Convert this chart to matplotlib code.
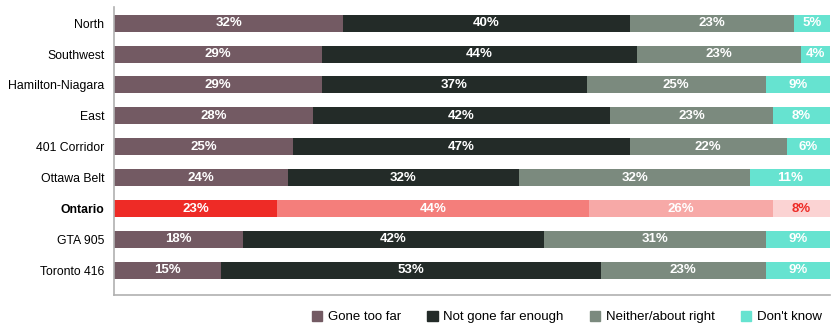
import matplotlib.pyplot as plt
import numpy as np

plt.rcParams['font.family'] = ['Liberation Sans', 'DejaVu Sans']

regions = ["North", "Southwest", "Hamilton-Niagara", "East", "401 Corridor",
           "Ottawa Belt", "Ontario", "GTA 905", "Toronto 416"]
too_far = [32, 29, 29, 28, 25, 24, 23, 18, 15]
not_enough = [40, 44, 37, 42, 47, 32, 44, 42, 53]
about_right = [23, 23, 25, 23, 22, 32, 26, 31, 23]
dont_know = [5, 4, 9, 8, 6, 11, 8, 9, 9]
series_names = ["Gone too far", "Not gone far enough", "Neither/about right", "Don't know"]

colors = ["#735a63", "#232b28", "#7b8a7e", "#66e3d0"]
ontario_colors = ["#ee2b26", "#f47e7b", "#f7a9a7", "#fbd3d3"]

fig = plt.figure(figsize=(8.36, 3.24), dpi=100)
ax = fig.add_axes([0.1364, 0.0895, 0.8564, 0.8885])

series = np.array([too_far, not_enough, about_right, dont_know], dtype=float)
# each row is stretched to fill 100% (rounded shares don't always add up)
shares = series / series.sum(axis=0) * 100
y = np.arange(len(regions))
left = np.zeros(len(regions))
for k in range(len(series)):
    cols = [ontario_colors[k] if r == "Ontario" else colors[k] for r in regions]
    ax.barh(y, shares[k], left=left, height=0.55, color=cols, label=series_names[k])
    for i, w in enumerate(shares[k]):
        tc = "#ee2b26" if (regions[i] == "Ontario" and k == 3) else "white"
        ax.text(left[i] + w / 2, y[i], f"{int(series[k, i])}%", ha="center", va="center",
                color=tc, fontsize=9.5, fontweight="bold")
    left += shares[k]

ax.set_xlim(0, 100)
ax.set_ylim(8.8, -0.52)
ax.set_yticks(y)
ax.set_yticklabels(regions, fontsize=8.8)
for lbl in ax.get_yticklabels():
    if lbl.get_text() == "Ontario":
        lbl.set_fontweight("bold")
ax.tick_params(axis="y", length=0, pad=7)
ax.set_xticks([])
for s in ["top", "right"]:
    ax.spines[s].set_visible(False)
for s in ["left", "bottom"]:
    ax.spines[s].set_color("#b0b0b0")
    ax.spines[s].set_linewidth(1.2)

handles = [plt.Rectangle((0, 0), 1, 1, color=c) for c in colors]
fig.legend(handles, series_names, loc="lower right", bbox_to_anchor=(0.997, -0.035),
           ncol=4, frameon=False, fontsize=9.5, handlelength=0.8, handleheight=0.8,
           handletextpad=0.4, columnspacing=2.0)

fig.savefig("out.png", dpi=100)
